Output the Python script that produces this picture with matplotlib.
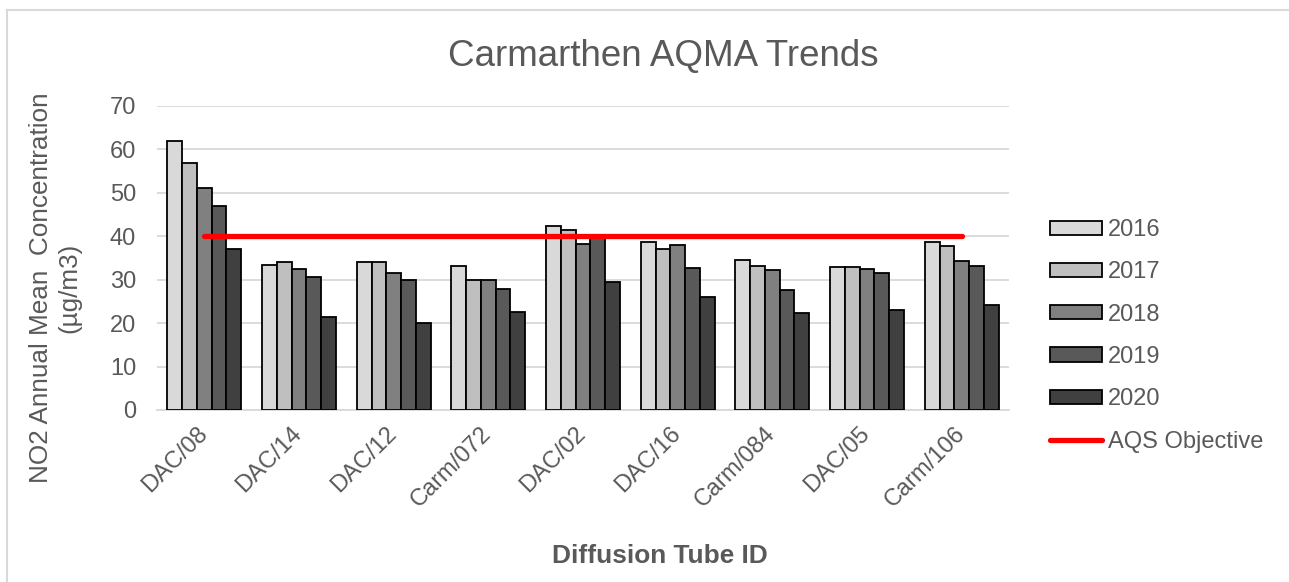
import numpy as np
import matplotlib.pyplot as plt
import matplotlib.transforms as mtransforms
from matplotlib.lines import Line2D

plt.rcParams['font.family'] = ['Liberation Sans', 'DejaVu Sans']

# data
sites = ['DAC/08', 'DAC/14', 'DAC/12', 'Carm/072', 'DAC/02',
         'DAC/16', 'Carm/084', 'DAC/05', 'Carm/106']
years = ['2016', '2017', '2018', '2019', '2020']
no2_2016 = [61.9, 33.4, 34.1, 33.2, 42.4, 38.7, 34.6, 32.8, 38.7]
no2_2017 = [56.9, 34.0, 34.1, 29.9, 41.3, 37.0, 33.1, 32.8, 37.7]
no2_2018 = [51.1, 32.4, 31.5, 29.9, 38.3, 37.9, 32.3, 32.4, 34.3]
no2_2019 = [46.9, 30.7, 29.8, 27.9, 39.8, 32.7, 27.6, 31.5, 33.1]
no2_2020 = [37.0, 21.5, 20.1, 22.6, 29.5, 26.1, 22.3, 22.9, 24.2]
aqs_objective = 40

series = [no2_2016, no2_2017, no2_2018, no2_2019, no2_2020]
colors = ['#D9D9D9', '#BFBFBF', '#808080', '#595959', '#404040']
text_col = '#595959'

W, H = 1289, 582
fig = plt.figure(figsize=(W / 100, H / 100), dpi=100)
ax = fig.add_axes([157 / W, 1 - 410 / H, (1009 - 157) / W, (410 - 105.7) / H])

x = np.arange(len(sites))
bw = 0.156
handles = []
for i, (vals, c, yr) in enumerate(zip(series, colors, years)):
    b = ax.bar(x + (i - 2) * bw, vals, width=bw, color=c, edgecolor='black',
               linewidth=1.3, label=yr, zorder=3)
    handles.append(b)

ln, = ax.plot([x[0], x[-1]], [aqs_objective, aqs_objective], color='#FF0000',
              linewidth=3.8, solid_capstyle='round', label='AQS Objective',
              zorder=4)
handles.append(ln)

ax.set_xlim(-0.5, len(sites) - 0.5)
ax.set_ylim(0, 70)
ax.set_yticks(range(0, 71, 10))
ax.yaxis.grid(True, color='#D9D9D9', linewidth=1.3, zorder=0)
ax.set_axisbelow(True)
for s in ['top', 'right', 'left']:
    ax.spines[s].set_visible(False)
ax.spines['bottom'].set_color('#D9D9D9')
ax.spines['bottom'].set_linewidth(1.3)

ax.set_xticks(x)
ax.set_xticklabels(sites, rotation=45, ha='right', va='top',
                   rotation_mode='anchor')
ax.tick_params(axis='x', length=0, pad=6, labelsize=17, labelcolor=text_col)
ax.tick_params(axis='y', length=0, pad=15, labelsize=17, labelcolor=text_col)
# nudge rotated labels so their top end sits just right of the category centre
shift = mtransforms.ScaledTranslation(-8 / 100, -4 / 100, fig.dpi_scale_trans)
for lbl in ax.get_xticklabels():
    lbl.set_transform(lbl.get_transform() + shift)

fig.text(663.5 / W, 1 - 66 / H, 'Carmarthen AQMA Trends', ha='center',
         va='baseline', fontsize=26.5, color=text_col)
fig.text(55 / W, 1 - 288 / H, 'NO2 Annual Mean  Concentration\n(µg/m3)',
         rotation=90, ha='center', va='center', multialignment='center',
         fontsize=18.8, color=text_col)
fig.text(660 / W, 1 - 563 / H, 'Diffusion Tube ID', ha='center',
         va='baseline', fontsize=18.9, fontweight='bold', color=text_col)

leg = ax.legend(handles=handles, labels=years + ['AQS Objective'],
                loc='upper left', bbox_to_anchor=(1050 / W, 1 - 219 / H),
                bbox_transform=fig.transFigure, frameon=False, fontsize=17,
                handlelength=2.2, handleheight=0.55, handletextpad=0.25,
                labelspacing=0.86, borderpad=0, borderaxespad=0)
for t in leg.get_texts():
    t.set_color(text_col)

# light chart-area border (top and left visible in the reference)
fig.add_artist(Line2D([7 / W, 1], [1 - 10 / H, 1 - 10 / H], color='#D9D9D9',
                      linewidth=1.5, transform=fig.transFigure))
fig.add_artist(Line2D([7 / W, 7 / W], [0, 1 - 10 / H], color='#D9D9D9',
                      linewidth=1.5, transform=fig.transFigure))

fig.savefig('out.png', dpi=100)
